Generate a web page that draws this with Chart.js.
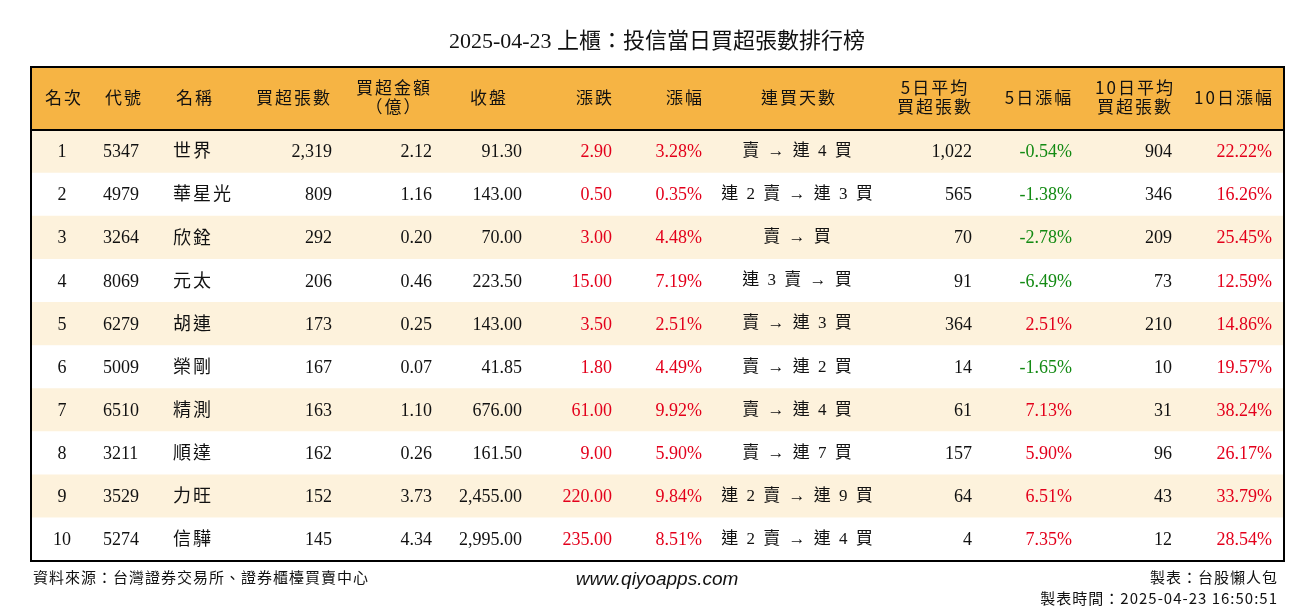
<!DOCTYPE html>
<html><head><meta charset="utf-8">
<script src="https://cdn.jsdelivr.net/npm/chart.js@4/dist/chart.umd.min.js"></script>
<style>html,body{margin:0;background:#fff}#w{width:1314px;height:612px}</style>
</head><body><div id="w"><canvas id="c"></canvas></div>
<script>
const ranks=['1','2','3','4','5','6','7','8','9','10'];
const codes=['5347','4979','3264','8069','6279','5009','6510','3211','3529','5274'];
const names=['世界','華星光','欣銓','元太','胡連','榮剛','精測','順達','力旺','信驊'];
const buyLots=['2,319','809','292','206','173','167','163','162','152','145'];
const buyAmt=['2.12','1.16','0.20','0.46','0.25','0.07','1.10','0.26','3.73','4.34'];
const closes=['91.30','143.00','70.00','223.50','143.00','41.85','676.00','161.50','2,455.00','2,995.00'];
const changes=['2.90','0.50','3.00','15.00','3.50','1.80','61.00','9.00','220.00','235.00'];
const pcts=['3.28%','0.35%','4.48%','7.19%','2.51%','4.49%','9.92%','5.90%','9.84%','8.51%'];
const streaks=['賣 → 連 4 買','連 2 賣 → 連 3 買','賣 → 買','連 3 賣 → 買','賣 → 連 3 買','賣 → 連 2 買','賣 → 連 4 買','賣 → 連 7 買','連 2 賣 → 連 9 買','連 2 賣 → 連 4 買'];
const avg5=['1,022','565','70','91','364','14','61','157','64','4'];
const pct5=['-0.54%','-1.38%','-2.78%','-6.49%','2.51%','-1.65%','7.13%','5.90%','6.51%','7.35%'];
const avg10=['904','346','209','73','210','10','31','96','43','12'];
const pct10=['22.22%','16.26%','25.45%','12.59%','14.86%','19.57%','38.24%','26.17%','33.79%','28.54%'];
const headers=[['名次'],['代號'],['名稱'],['買超張數'],['買超金額','（億）'],['收盤'],['漲跌'],['漲幅'],['連買天數'],['5日平均','買超張數'],['5日漲幅'],['10日平均','買超張數'],['10日漲幅']];

const RED='#e3001b',GREEN='#138a13',BLK='#111';
const colorOf=s=>s.startsWith('-')?GREEN:RED;
const cols=[
 [ranks,62,'center',()=>BLK],[codes,103,'left',()=>BLK],[names,173,'left',()=>BLK],
 [buyLots,332,'right',()=>BLK],[buyAmt,432,'right',()=>BLK],[closes,522,'right',()=>BLK],
 [changes,612,'right',()=>RED],[pcts,702,'right',()=>RED],[streaks,797,'center',()=>BLK],
 [avg5,972,'right',()=>BLK],[pct5,1072,'right',colorOf],[avg10,1172,'right',()=>BLK],[pct10,1272,'right',colorOf]];
const hdrX=[63,123,194,293,393,488,594,684,798,934,1038,1134,1233];
const FONT="'Liberation Serif','Noto Sans CJK TC',serif";

const tablePlugin={id:'tbl',
 afterDatasetsDraw(ch){
  const g=ch.ctx,a=ch.chartArea,x=ch.scales.x,y=ch.scales.y;
  g.save();
  g.fillStyle='#f6b444';g.fillRect(a.left,67,a.right-a.left,a.top-67);
  g.strokeStyle='#000';g.lineWidth=2;
  g.beginPath();g.moveTo(a.left,a.top);g.lineTo(a.right,a.top);g.stroke();
  g.strokeRect(a.left,67,a.right-a.left,a.bottom-67);
  g.fillStyle=BLK;g.textBaseline='middle';g.textAlign='center';
  g.font="17px 'Noto Sans CJK TC',serif";g.letterSpacing='2px';
  headers.forEach((h,i)=>{const cx=x.getPixelForValue(hdrX[i])+1;
    if(h.length===1)g.fillText(h[0],cx,98);else{g.fillText(h[0],cx,88);g.fillText(h[1],cx,107);}});
  cols.forEach(([arr,px,al,cf])=>{
   arr.forEach((v,r)=>{const cy=y.getPixelForValue(r);
    g.textAlign=al;g.fillStyle=cf(v);
    if(/→/.test(v)){g.font="17px "+FONT;g.letterSpacing='2px';g.fillText(v,x.getPixelForValue(px)+1,cy);}
    else if(/[^\x00-\x7f]/.test(v)){g.font="18px 'Noto Sans CJK TC',serif";g.letterSpacing='2px';g.fillText(v,x.getPixelForValue(px),cy-1);}
    else{g.font="18px "+FONT;g.letterSpacing='0px';g.fillText(v,x.getPixelForValue(px),cy+1);}
   });
  });
  g.letterSpacing='0px';
  g.fillStyle=BLK;g.textAlign='center';g.font="22px "+FONT;
  g.fillText('2025-04-23 上櫃：投信當日買超張數排行榜',657,42);
  g.font="15px 'Noto Sans CJK TC',serif";g.textAlign='left';g.letterSpacing='1px';
  g.fillText('資料來源：台灣證券交易所、證券櫃檯買賣中心',33,577);
  g.textAlign='right';g.fillText('製表：台股懶人包',1278,577);
  g.fillText('製表時間：2025-04-23 16:50:51',1278,598);
  g.letterSpacing='0px';
  g.textAlign='center';g.font="italic 19px 'Liberation Sans',sans-serif";g.fillText('www.qiyoapps.com',657,580);
  g.restore();
 }};

new Chart(document.getElementById('c'),{
 type:'bar',
 data:{labels:ranks,datasets:[{data:ranks.map(()=>[31,1284]),
   backgroundColor:ranks.map((_,i)=>i%2===0?'#fdf2dc':'#ffffff'),
   barPercentage:1,categoryPercentage:1,borderWidth:0}]},
 options:{indexAxis:'y',responsive:true,maintainAspectRatio:false,animation:false,
  layout:{padding:{left:31,right:30,top:130,bottom:51}},
  plugins:{legend:{display:false},tooltip:{enabled:false},title:{display:false}},
  scales:{x:{type:'linear',min:31,max:1284,display:false},
          y:{type:'category',display:false,offset:true}}},
 plugins:[tablePlugin]});
</script></body></html>
